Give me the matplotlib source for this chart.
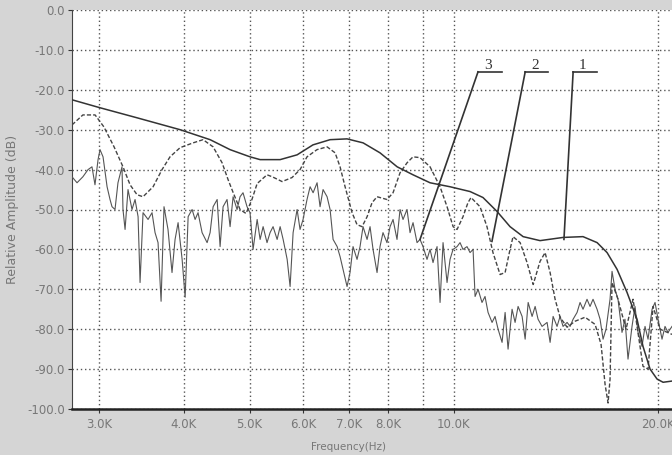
import numpy as np
import matplotlib
matplotlib.use("Agg")
from matplotlib import pyplot as plt
from matplotlib.ticker import FixedLocator, NullFormatter

# frequency (Hz) / relative amplitude (dB)
f1 = [2737, 3010, 3410, 3950, 4373, 4680, 5008, 5182, 5546, 5875, 6200, 6571, 6960,
      7350, 7784, 8250, 8706, 9224, 9872, 10566, 11040, 11580, 12101, 12650, 13398,
      14490, 15500, 16260, 16820, 17400, 18000, 18620, 19000, 19461, 19930, 20340, 20965]
a1 = [-22.5, -24.5, -27.0, -30.0, -32.5, -35.0, -36.8, -37.5, -37.5, -36.3, -33.8, -32.5, -32.3,
      -33.3, -35.8, -39.3, -41.3, -43.3, -44.3, -45.5, -47.0, -50.5, -54.3, -56.8, -57.8,
      -57.0, -56.8, -58.3, -60.8, -65.0, -70.8, -77.5, -84.3, -90.0, -92.5, -93.3, -93.0]

f2 = [2737, 2840, 2960, 3050, 3157, 3254, 3333, 3413, 3483, 3604, 3715, 3817, 3950, 4128,
      4270, 4418, 4555, 4648, 4730, 4841, 4940, 5040, 5130, 5305, 5400, 5583, 5774, 5934,
      6076, 6285, 6505, 6684, 6797, 6914, 7080, 7200, 7324, 7450, 7576, 7706, 7972, 8136,
      8331, 8531, 8706, 8916, 9224, 9543, 9772, 9975, 10110, 10316, 10490, 10600, 10929,
      11190, 11420, 11699, 11900, 12101, 12225, 12522, 12820, 13090, 13398, 13630, 13863,
      14100, 14340, 14686, 15090, 15610, 16150, 16480, 16705, 16876, 16990, 17105, 17456,
      17935, 18370, 19000, 19328, 19660, 20131, 20965]
a2 = [-28.8, -26.3, -26.3, -29.3, -34.3, -39.3, -43.8, -46.3, -46.8, -44.3, -40.0, -36.8, -34.5, -33.3,
      -32.5, -34.3, -38.3, -42.5, -45.8, -50.0, -51.0, -47.5, -43.5, -41.3, -41.8, -43.0, -42.0, -40.0,
      -36.8, -35.0, -34.3, -35.8, -39.3, -44.3, -50.8, -53.8, -54.3, -51.8, -48.3, -46.8, -47.5, -45.8,
      -40.8, -38.3, -36.8, -37.0, -39.3, -44.3, -49.3, -54.3, -55.0, -51.8, -48.3, -47.0, -49.3,
      -54.3, -60.8, -66.3, -65.8, -60.0, -56.8, -58.3, -63.3, -68.8, -63.0, -60.8, -65.8,
      -72.5, -77.0, -79.5, -78.0, -77.0, -78.8, -83.8, -93.8, -98.5, -92.5, -68.3, -72.5,
      -80.0, -72.5, -89.3, -90.0, -74.3, -80.0, -81.3]

f3 = [2737, 2784, 2840, 2890, 2929, 2959, 2990, 3010, 3041, 3083, 3114, 3135, 3167, 3199, 3243,
      3254, 3277, 3310, 3355, 3390, 3425, 3448, 3483, 3543, 3591, 3628, 3665, 3703, 3740, 3791,
      3843, 3883, 3923, 3977, 4018, 4059, 4114, 4156, 4198, 4256, 4329, 4373, 4418, 4479, 4524,
      4570, 4632, 4680, 4728, 4792, 4841, 4890, 4957, 5008, 5060, 5130, 5182, 5235, 5305, 5360,
      5415, 5490, 5546, 5603, 5680, 5737, 5796, 5875, 5934, 5995, 6076, 6140, 6203, 6287, 6351,
      6416, 6504, 6571, 6638, 6730, 6797, 6866, 6960, 7031, 7103, 7200, 7274, 7348, 7449, 7525,
      7602, 7706, 7784, 7863, 7970, 8054, 8136, 8246, 8331, 8416, 8531, 8619, 8707, 8826, 8916,
      9007, 9130, 9224, 9318, 9446, 9543, 9640, 9772, 9872, 9973, 10110, 10212, 10316, 10457,
      10566, 10674, 10747, 10857, 11003, 11116, 11231, 11385, 11500, 11620, 11778, 11900, 12020,
      12184, 12310, 12436, 12607, 12737, 12868, 13041, 13176, 13308, 13489, 13722, 13863, 14005,
      14194, 14340, 14486, 14686, 14837, 14988, 15191, 15346, 15502, 15713, 15875, 16037, 16257,
      16425, 16592, 16760, 16990, 17105, 17280, 17456, 17694, 17874, 18058, 18305, 18492, 18682,
      18938, 19131, 19328, 19594, 19793, 19995, 20267, 20474, 20684, 20965]
a3 = [-41.8, -43.3, -41.8, -40.0, -39.3, -43.8, -37.5, -35.0, -36.8, -44.3, -47.5, -49.3, -50.0, -43.3, -39.3,
      -50.0, -55.0, -45.0, -50.0, -47.5, -51.8, -68.3, -50.8, -52.5, -50.8, -55.8, -58.3, -73.0, -49.3, -55.0,
      -65.8, -57.5, -53.3, -62.5, -72.0, -51.8, -50.0, -52.5, -50.8, -55.8, -58.3, -55.8, -49.3, -47.5, -59.3,
      -49.3, -47.5, -54.3, -46.8, -50.0, -46.8, -45.8, -49.3, -50.8, -60.0, -52.5, -57.5, -54.3, -58.3, -55.8,
      -54.3, -57.5, -54.3, -57.5, -62.5, -69.3, -55.8, -50.0, -55.0, -52.5, -47.5, -44.3, -45.8, -43.3, -49.3,
      -45.0, -46.8, -50.0, -57.5, -59.3, -61.8, -65.0, -69.3, -65.8, -59.3, -62.5, -59.3, -54.3, -57.5, -54.3,
      -60.0, -65.8, -59.3, -55.8, -58.3, -54.3, -52.5, -57.5, -50.0, -52.5, -50.0, -55.8, -53.3, -58.3, -57.5,
      -59.3, -62.5, -60.0, -63.3, -59.3, -73.3, -58.3, -68.3, -62.5, -60.0, -59.3, -58.3, -60.0, -59.3,
      -60.8, -60.0, -71.8, -70.0, -73.3, -71.8, -75.8, -78.3, -76.8, -80.0, -83.3, -75.8, -85.0,
      -75.0, -78.3, -74.3, -76.8, -82.5, -73.3, -76.8, -74.3, -77.5, -79.3, -78.3, -83.3, -76.8,
      -79.3, -76.8, -79.3, -78.3, -79.3, -77.5, -75.8, -73.3, -75.0, -72.5, -74.3, -72.5, -75.0,
      -77.5, -82.5, -80.0, -72.5, -65.5, -70.0, -72.5, -80.8, -77.5, -87.5, -79.3, -74.3, -80.8,
      -84.3, -79.3, -82.5, -75.0, -73.3, -77.5, -82.5, -79.3, -80.8, -79.3]

xticks = [3000, 4000, 5000, 6000, 7000, 8000, 10000, 20000]
xtick_labels = ['3.0K', '4.0K', '5.0K', '6.0K', '7.0K', '8.0K', '10.0K', '20.0K']
yticks = np.arange(0, -101, -10)

# curve labels: name, text position (Hz), underline ends (Hz), leader end (Hz, dB)
tags = ['3', '2', '1']
tag_x = [11230, 13170, 15450]
line_x0 = [10855, 12740, 14990]
line_x1 = [11777, 13770, 16260]
lead_end_x = [8916, 11380, 14530]
lead_end_y = [-57.5, -58.0, -57.5]

fig = plt.figure(figsize=(6.72, 4.55), dpi=100)
fig.patch.set_facecolor('#d5d5d5')
ax = fig.add_axes([72 / 672, 46 / 455, 600 / 672, 399 / 455])
ax.set_facecolor('white')

ax.set_xscale('log')
ax.set_xlim(2737, 20965)
ax.set_ylim(-100, 0)

ax.plot(f3, a3, color='#555555', lw=0.8, zorder=3)
ax.plot(f2, a2, color='#444444', lw=1.0, ls=(0, (3, 1.5)), zorder=4)
ax.plot(f1, a1, color='#333333', lw=1.1, zorder=5)

ax.xaxis.set_major_locator(FixedLocator(xticks))
ax.xaxis.set_minor_locator(FixedLocator([9000]))
ax.xaxis.set_minor_formatter(NullFormatter())
ax.set_xticklabels(xtick_labels)
ax.set_yticks(yticks)
ax.set_yticklabels(['%.1f' % v for v in yticks])

ax.grid(True, which='both', color='#555555', ls=(0, (1, 2)), lw=1.0)
ax.tick_params(axis='both', colors='#333333', labelcolor='#777777', labelsize=8.5, length=3)
ax.tick_params(axis='x', which='minor', length=0)
ax.tick_params(axis='y', pad=2)

for s in ['top', 'right']:
    ax.spines[s].set_visible(False)
ax.spines['left'].set_color('#444444')
ax.spines['bottom'].set_color('#222222')
ax.spines['bottom'].set_linewidth(1.8)

ax.set_ylabel('Relative Amplitude (dB)', color='#777777', fontsize=9, labelpad=6)
fig.text(348 / 672, 0.018, 'Frequency(Hz)', color='#777777', fontsize=7.5, ha='center', va='center')

for i in range(len(tags)):
    ax.text(tag_x[i], -15.5, tags[i], fontsize=11, color='#333333', ha='center', va='bottom',
            family='Liberation Serif')
    ax.plot([line_x0[i], line_x1[i]], [-15.5, -15.5], color='#333333', lw=1.2, zorder=6)
    ax.plot([line_x0[i], lead_end_x[i]], [-15.5, lead_end_y[i]], color='#333333', lw=1.2, zorder=6)

fig.savefig('out.png', dpi=100, facecolor=fig.get_facecolor())
